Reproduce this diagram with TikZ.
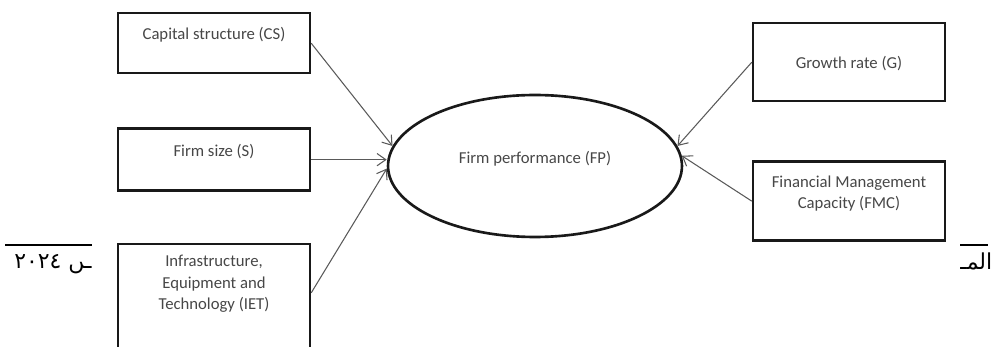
\documentclass[tikz,border=0pt]{standalone}
\usepackage{fontspec}
\newfontfamily\labelfont{Carlito}
\newfontfamily\arabicfont[Script=Arabic]{DejaVu Sans}
\TeXXeTstate=1
\usetikzlibrary{positioning,shapes.geometric,arrows.meta}

\tikzset{
  factor/.style={draw=black!90, line width=1.4pt, fill=white, inner xsep=2pt, inner ysep=0pt,
    minimum width=3.84cm, align=center, text=black!72,
    font=\labelfont\fontsize{9.5}{12}\selectfont},
  outcome/.style={ellipse, draw=black!90, line width=1.5pt, inner sep=0pt,
    minimum width=5.88cm, minimum height=2.84cm, text=black!72,
    font=\labelfont\fontsize{9.5}{12}\selectfont},
  link/.style={draw=black!65, line width=0.6pt, -{Straight Barb[length=5pt,width=7pt]}},
  header/.style={inner sep=0pt, font=\arabicfont\fontsize{12.5}{14}\selectfont},
}

\begin{document}
\begin{tikzpicture}[x=0.02cm, y=-0.02cm]
            % Page area
            \clip (0, 0) rectangle (998, 347);
            \path (5, 245) coordinate (L1);
            \path (92, 245) coordinate (L2);
            \path (960, 245) coordinate (R1);
            \path (988, 245) coordinate (R2);

            % Page header remnants
            \draw[line width=0.8pt] (L1) -- (L2);
            \draw[line width=0.8pt] (R1) -- (R2);
            \node[header, anchor=base east] (datetext) at (92, 269) {\beginR ـں \beginL٢٠٢٤\endL\endR};
            \node[header, anchor=base west] (journaltext) at (960, 270) {\beginR المـ\endR};

            % Left factors
            \node[factor, anchor=north, text height=0.52cm, text depth=0.68cm] (cs) at (214, 12) {Capital structure (CS)};
            \node[factor, below=1.06cm of cs, text height=0.56cm, text depth=0.68cm] (s) {Firm size (S)};
            \node[factor, below=1.02cm of s, text height=1.3cm, text depth=3cm] (iet) {Infrastructure,\\ Equipment and\\ Technology (IET)};
            \path ([yshift=-1cm]iet.north east) coordinate (ietout);

            % Right factors
            \node[factor, anchor=north, text height=0.9cm, text depth=0.66cm] (g) at (849, 22) {Growth rate (G)};
            \node[factor, below=1.16cm of g, text height=0.94cm, text depth=0.64cm] (fmc) {Financial Management\\ Capacity (FMC)};

            % Outcome
            \node[outcome, text height=0.2cm, text depth=0.28cm] (fp) at (535, 166) {Firm performance (FP)};

            % Arrows
            \draw[link] (cs.east) -- (fp.172);
            \draw[link] (s.east) -- (s.east -| fp.west);
            \draw[link] (ietout) -- (fp.181);
            \draw[link] (g.west) -- (fp.8);
            \draw[link] (fmc.west) -- (fp.4);
        \end{tikzpicture}
\end{document}
